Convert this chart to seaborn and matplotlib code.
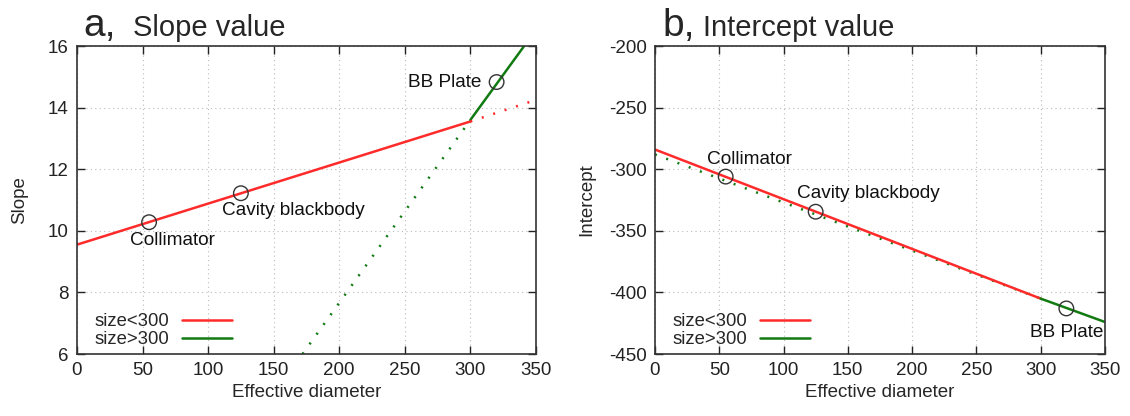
import numpy as np
import pandas as pd
import matplotlib
matplotlib.use("Agg")
import matplotlib.pyplot as plt
import seaborn as sns

sns.set_theme(style="white")
plt.rcParams['font.family'] = ['Liberation Sans', 'DejaVu Sans']
plt.rcParams['axes.unicode_minus'] = False

# ---- data ----
# panel a: slope
slope_small_x = [0, 300]
slope_small_y = [9.55, 13.55]
slope_small_ext_x = [300, 350]
slope_small_ext_y = [13.55, 14.25]
slope_large_x = [300, 341]
slope_large_y = [13.6, 16.0]
slope_large_ext_x = [172, 300]
slope_large_ext_y = [6.0, 13.6]
slope_pts_x = [55, 125, 320]
slope_pts_y = [10.28, 11.22, 14.83]
# panel b: intercept
int_small_x = [0, 300]
int_small_y = [-284, -405]
int_large_x = [300, 350]
int_large_y = [-405, -424]
int_large_ext_x = [0, 300]
int_large_ext_y = [-288, -405]
int_pts_x = [55, 125, 320]
int_pts_y = [-306, -334.5, -413]
point_names = ["Collimator", "Cavity blackbody", "BB Plate"]
x_ticks = [0, 50, 100, 150, 200, 250, 300, 350]
slope_ticks = [6, 8, 10, 12, 14, 16]
int_ticks = [-450, -400, -350, -300, -250, -200]

RED = "#ff2a2a"
GREEN = "#117a11"
FS = 13.5

fig = plt.figure(figsize=(11.3, 4.16), dpi=100)
axa = fig.add_axes([0.0681, 0.149, 0.4062, 0.7404])
axb = fig.add_axes([0.5796, 0.149, 0.3982, 0.7404])


def style(ax, yticks, ylabel, ylpad):
    ax.set_xlim(0, 350)
    ax.set_ylim(yticks[0], yticks[-1])
    ax.set_xticks(x_ticks)
    ax.set_yticks(yticks)
    ax.grid(True, linestyle=(0, (1, 3)), color="#bbbbbb", linewidth=0.8)
    ax.tick_params(direction="in", length=6, width=1, top=True, right=True,
                   labelsize=FS, colors="#222222", pad=6,
                   bottom=True, left=True)
    for s in ax.spines.values():
        s.set_color("#333333")
        s.set_linewidth(1.2)
    ax.set_xlabel("Effective diameter", fontsize=FS, labelpad=3)
    ax.set_ylabel(ylabel, fontsize=FS, labelpad=ylpad)


def label(ax, text, x, y, dx, dy, ha, va):
    ax.annotate(text, (x, y), xytext=(dx, dy), textcoords="offset pixels",
                ha=ha, va=va, fontsize=13.7, color="#111111")


# panel a
sns.lineplot(x=slope_small_x, y=slope_small_y, ax=axa, color=RED, lw=1.8, label="size<300")
sns.lineplot(x=slope_large_x, y=slope_large_y, ax=axa, color=GREEN, lw=1.8, label="size>300")
axa.plot(slope_small_ext_x, slope_small_ext_y, color=RED, lw=1.8, linestyle=(0, (0.8, 4)))
axa.plot(slope_large_ext_x, slope_large_ext_y, color=GREEN, lw=1.8, linestyle=(0, (0.8, 4)))
sns.scatterplot(x=slope_pts_x, y=slope_pts_y, ax=axa, marker="o", s=110,
                facecolor="none", edgecolor="#333333", linewidth=1.0, zorder=5)
label(axa, point_names[0], slope_pts_x[0], slope_pts_y[0], 23, -10, "center", "top")
label(axa, point_names[1], slope_pts_x[1], slope_pts_y[1], -19, -9, "left", "top")
label(axa, point_names[2], slope_pts_x[2], slope_pts_y[2], -15, 0, "right", "center")
style(axa, slope_ticks, "Slope", 14)

# panel b
axb.plot(int_large_ext_x, int_large_ext_y, color=GREEN, lw=1.8, linestyle=(0, (0.8, 4)))
sns.lineplot(x=int_small_x, y=int_small_y, ax=axb, color=RED, lw=1.8, label="size<300")
sns.lineplot(x=int_large_x, y=int_large_y, ax=axb, color=GREEN, lw=1.8, label="size>300")
sns.scatterplot(x=int_pts_x, y=int_pts_y, ax=axb, marker="o", s=110,
                facecolor="none", edgecolor="#333333", linewidth=1.0, zorder=5)
label(axb, point_names[0], int_pts_x[0], int_pts_y[0], 24, 9, "center", "bottom")
label(axb, point_names[1], int_pts_x[1], int_pts_y[1], -19, 10, "left", "bottom")
label(axb, point_names[2], int_pts_x[2], int_pts_y[2], 0, -16, "center", "top")
style(axb, int_ticks, "Intercept", 10)

for ax in (axa, axb):
    ax.legend(loc="lower left", frameon=False, markerfirst=False, fontsize=13.3,
              handlelength=2.7, handletextpad=0.7, labelspacing=0.05,
              borderaxespad=0.0, bbox_to_anchor=(0.022, -0.005))

fig.text(83 / 1130, 1 - 36 / 416, "a,", fontsize=28, ha="left", va="baseline")
fig.text(133 / 1130, 1 - 36 / 416, "Slope value", fontsize=21, ha="left", va="baseline")
fig.text(662 / 1130, 1 - 36 / 416, "b,", fontsize=28, ha="left", va="baseline")
fig.text(703 / 1130, 1 - 36 / 416, "Intercept value", fontsize=21, ha="left", va="baseline")

fig.savefig("out.png", dpi=100)
